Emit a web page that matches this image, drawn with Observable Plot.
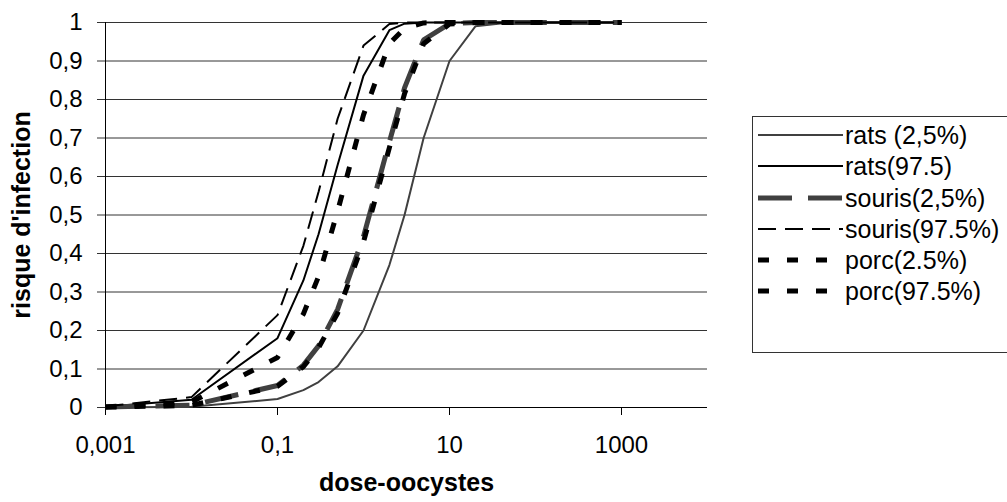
<!DOCTYPE html>
<html>
<head>
<meta charset="utf-8">
<script src="https://cdn.jsdelivr.net/npm/d3@7"></script>
<script src="https://cdn.jsdelivr.net/npm/@observablehq/plot@0.6"></script>
<style>
  html, body { margin: 0; padding: 0; background: #fff; }
  #chart svg { display: block; }
</style>
</head>
<body>
<div id="chart"></div>
<script>
// ---- data ----
const doses = [0.001, 0.01, 0.1, 0.2, 0.3, 0.5, 1, 2, 3, 5, 10, 20, 50, 100, 1000];
const seriesNames = ["rats (2,5%)", "rats(97.5)", "souris(2,5%)", "souris(97.5%)", "porc(2.5%)", "porc(97.5%)"];
const ratsLow    = [0, 0.002, 0.022, 0.045, 0.066, 0.107, 0.2, 0.37, 0.5, 0.7, 0.9, 0.99, 1, 1, 1];
const ratsHigh   = [0.002, 0.02, 0.18, 0.33, 0.45, 0.63, 0.862, 0.98, 0.997, 1, 1, 1, 1, 1, 1];
const sourisLow  = [0.001, 0.006, 0.057, 0.11, 0.16, 0.255, 0.444, 0.69, 0.83, 0.955, 0.997, 1, 1, 1, 1];
const sourisHigh = [0.003, 0.027, 0.24, 0.42, 0.56, 0.75, 0.94, 0.996, 1, 1, 1, 1, 1, 1, 1];
const porcLow    = [0.001, 0.0055, 0.055, 0.106, 0.155, 0.245, 0.43, 0.675, 0.815, 0.945, 0.996, 1, 1, 1, 1];
const porcHigh   = [0.0015, 0.014, 0.13, 0.243, 0.34, 0.51, 0.76, 0.945, 0.985, 0.999, 1, 1, 1, 1, 1];
const xTicks = [0.001, 0.1, 10, 1000];
const yTicks = [0, 0.1, 0.2, 0.3, 0.4, 0.5, 0.6, 0.7, 0.8, 0.9, 1];
const xTitle = "dose-oocystes";
const yTitle = "risque d'infection";

// ---- styles ----
const allValues = [ratsLow, ratsHigh, sourisLow, sourisHigh, porcLow, porcHigh];
const styles = [
  {stroke: "#404040", strokeWidth: 2, dash: null},
  {stroke: "#000000", strokeWidth: 2, dash: null},
  {stroke: "#404040", strokeWidth: 5, dash: "34,16"},
  {stroke: "#000000", strokeWidth: 2, dash: "18,9"},
  {stroke: "#000000", strokeWidth: 5, dash: "11,18"},
  {stroke: "#000000", strokeWidth: 5, dash: "11,18"}
];

const series = allValues.map((vals, s) => doses.map((d, i) => ({dose: d, risk: vals[i], name: seriesNames[s]})));
const fmt = d => String(d).replace(".", ",");
const FONT = "'Liberation Sans', Arial, Helvetica, sans-serif";

const lineMarks = series.map((data, s) => Plot.line(data, {
  x: "dose", y: "risk",
  stroke: styles[s].stroke,
  strokeWidth: styles[s].strokeWidth,
  strokeDasharray: styles[s].dash || undefined,
  strokeLinejoin: "miter",
  strokeLinecap: "butt"
}));

const chart = Plot.plot({
  width: 1007,
  height: 502,
  marginLeft: 105,
  marginRight: 300,
  marginTop: 22,
  marginBottom: 95,
  style: {fontFamily: FONT, fontSize: "24px", background: "#fff", color: "#000"},
  x: {type: "log", domain: [0.001, 10000], nice: false},
  y: {domain: [0, 1], nice: false},
  marks: [
    Plot.gridY(yTicks, {stroke: "#333", strokeOpacity: 1, strokeWidth: 1}),
    Plot.axisY({ticks: yTicks, tickFormat: fmt, tickSize: 8, tickPadding: 15, fontSize: 24, label: null, stroke: "#333"}),
    Plot.axisX({ticks: xTicks, tickFormat: fmt, tickSize: 8, tickPadding: 20, fontSize: 24, label: null, stroke: "#000"}),
    Plot.ruleY([0], {stroke: "#000", strokeWidth: 1}),
    Plot.ruleX([0.001], {stroke: "#000", strokeWidth: 1}),
    ...lineMarks,
    Plot.text([xTitle], {text: d => d, frameAnchor: "bottom", dy: 83, fontWeight: "bold", fontSize: 25, textAnchor: "middle"}),
    Plot.text([yTitle], {text: d => d, frameAnchor: "left", dx: -84, rotate: -90, fontWeight: "bold", fontSize: 25, textAnchor: "middle"})
  ]
});

// ---- legend ----
const svg = d3.select(chart);
const lg = svg.append("g").attr("class", "legend").attr("text-anchor", "start");
lg.append("rect")
  .attr("x", 752.5).attr("y", 116.5).attr("width", 300).attr("height", 236)
  .attr("fill", "#fff").attr("stroke", "#333").attr("stroke-width", 1);
const rowY = [135, 166, 198, 229, 260, 291];
seriesNames.forEach((name, s) => {
  const y = rowY[s];
  lg.append("line")
    .attr("x1", 758).attr("x2", 843).attr("y1", y).attr("y2", y)
    .attr("stroke", styles[s].stroke)
    .attr("stroke-width", styles[s].strokeWidth)
    .attr("stroke-dasharray", styles[s].dash || null);
  lg.append("text")
    .attr("x", 845).attr("y", y).attr("dy", "0.35em")
    .attr("text-anchor", "start")
    .style("text-anchor", "start")
    .attr("font-family", FONT).attr("font-size", 25).attr("fill", "#000")
    .text(name);
});

document.getElementById("chart").appendChild(chart);
</script>
</body>
</html>
